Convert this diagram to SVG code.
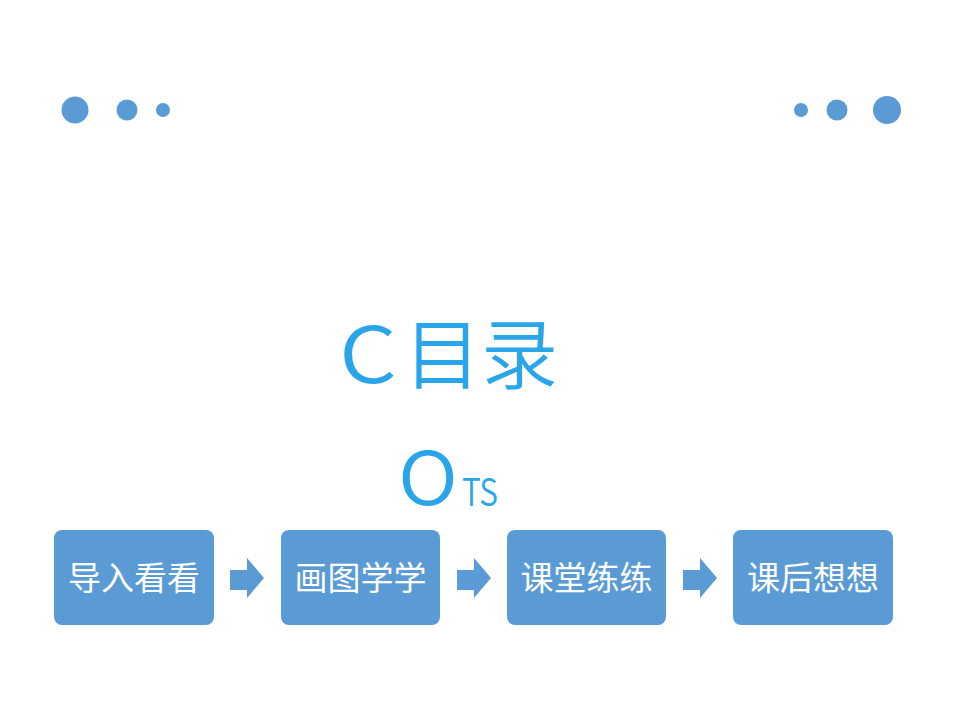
<svg xmlns="http://www.w3.org/2000/svg" width="960" height="720" viewBox="0 0 960 720">
<style>
.dot{fill:#5b9bd5}
.box{fill:#5b9bd5}
.lbl{font-family:"Noto Sans CJK SC","Noto Sans",sans-serif;font-size:33px;fill:#ffffff;text-anchor:middle}
.arr{fill:#5b9bd5}
.title{font-family:"Noto Sans CJK SC","Noto Sans",sans-serif;fill:#2aa5ea;font-weight:350}
</style>
<rect width="960" height="720" fill="#ffffff"/>
<g id="dots-left">
<circle class="dot" cx="75" cy="110" r="13.5"/>
<circle class="dot" cx="127" cy="110" r="10.5"/>
<circle class="dot" cx="163" cy="110" r="7"/>
</g>
<g id="dots-right">
<circle class="dot" cx="801" cy="110" r="7"/>
<circle class="dot" cx="837" cy="110" r="10.5"/>
<circle class="dot" cx="887" cy="110" r="14"/>
</g>
<g id="title">
<text class="title" x="339" y="383" font-size="78"><tspan textLength="58" lengthAdjust="spacingAndGlyphs">C</tspan><tspan x="404" font-size="77">目录</tspan></text>
<text class="title" x="398" y="505" font-size="74" textLength="60" lengthAdjust="spacingAndGlyphs">O</text>
<text class="title" x="462" y="506" font-size="38" textLength="36" lengthAdjust="spacingAndGlyphs">TS</text>
</g>
<g id="n1"><rect class="box" x="54" y="530" width="160" height="95" rx="8"/><text class="lbl" x="134" y="590">导入看看</text></g>
<g id="n2"><rect class="box" x="281" y="530" width="159" height="95" rx="8"/><text class="lbl" x="360.5" y="590">画图学学</text></g>
<g id="n3"><rect class="box" x="507" y="530" width="159" height="95" rx="8"/><text class="lbl" x="586.5" y="590">课堂练练</text></g>
<g id="n4"><rect class="box" x="733" y="530" width="160" height="95" rx="8"/><text class="lbl" x="813" y="590">课后想想</text></g>
<g id="connectors">
<polygon class="arr" points="230,570 247,570 247,558 264,578 247,598 247,590 230,590"/>
<polygon class="arr" points="457,570 474,570 474,558 491,578 474,598 474,590 457,590"/>
<polygon class="arr" points="683,570 700,570 700,558 717,578 700,598 700,590 683,590"/>
</g>
</svg>
